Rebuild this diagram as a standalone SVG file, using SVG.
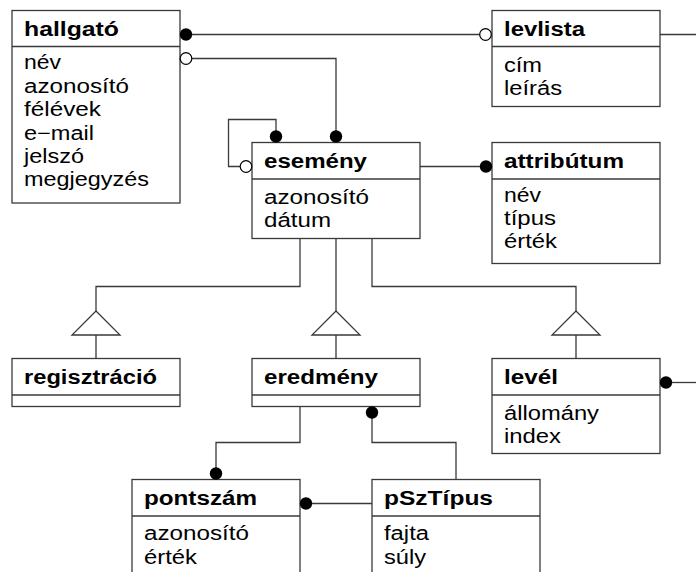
<svg xmlns="http://www.w3.org/2000/svg" width="696" height="572" viewBox="0 0 696 572">
  <style>
    .box { fill: #ffffff; stroke: #3a3a3a; stroke-width: 1.3; }
    .sep { stroke: #3a3a3a; stroke-width: 1.3; }
    .wire { fill: none; stroke: #3a3a3a; stroke-width: 1.3; }
    .tri { fill: #ffffff; stroke: #3a3a3a; stroke-width: 1.3; }
    .dot { fill: #000000; }
    .ring { fill: #ffffff; stroke: #000000; stroke-width: 1.2; }
    text { font-family: "Liberation Sans", Arial, Helvetica, sans-serif; font-size: 20px; fill: #000000; }
    .title { font-weight: bold; }
  </style>

  <!-- classes -->
  <g id="hallgato">
    <rect class="box" x="12" y="10.5" width="168" height="192.5"/>
    <line class="sep" x1="12" y1="46.5" x2="180" y2="46.5"/>
    <text class="title" x="24" y="36" textLength="95" lengthAdjust="spacingAndGlyphs">hallgató</text>
    <text x="24" y="69" textLength="37" lengthAdjust="spacingAndGlyphs">név</text>
    <text x="24" y="92.5" textLength="105" lengthAdjust="spacingAndGlyphs">azonosító</text>
    <text x="24" y="116" textLength="77" lengthAdjust="spacingAndGlyphs">félévek</text>
    <text x="24" y="139.5" textLength="70" lengthAdjust="spacingAndGlyphs">e−mail</text>
    <text x="24" y="163" textLength="60" lengthAdjust="spacingAndGlyphs">jelszó</text>
    <text x="24" y="186" textLength="125" lengthAdjust="spacingAndGlyphs">megjegyzés</text>
  </g>

  <g id="levlista">
    <rect class="box" x="492" y="10.5" width="168" height="96"/>
    <line class="sep" x1="492" y1="46.5" x2="660" y2="46.5"/>
    <text class="title" x="504" y="36" textLength="81" lengthAdjust="spacingAndGlyphs">levlista</text>
    <text x="504" y="71.5" textLength="38" lengthAdjust="spacingAndGlyphs">cím</text>
    <text x="504" y="94.5" textLength="58" lengthAdjust="spacingAndGlyphs">leírás</text>
  </g>

  <g id="esemeny">
    <rect class="box" x="252" y="142.5" width="168" height="96"/>
    <line class="sep" x1="252" y1="179" x2="420" y2="179"/>
    <text class="title" x="264" y="168" textLength="103" lengthAdjust="spacingAndGlyphs">esemény</text>
    <text x="264" y="203.5" textLength="105" lengthAdjust="spacingAndGlyphs">azonosító</text>
    <text x="264" y="227" textLength="67" lengthAdjust="spacingAndGlyphs">dátum</text>
  </g>

  <g id="attributum">
    <rect class="box" x="492" y="142.5" width="168" height="121"/>
    <line class="sep" x1="492" y1="179" x2="660" y2="179"/>
    <text class="title" x="504" y="168" textLength="120" lengthAdjust="spacingAndGlyphs">attribútum</text>
    <text x="504" y="201.5" textLength="37" lengthAdjust="spacingAndGlyphs">név</text>
    <text x="504" y="224.5" textLength="52" lengthAdjust="spacingAndGlyphs">típus</text>
    <text x="504" y="247.5" textLength="53" lengthAdjust="spacingAndGlyphs">érték</text>
  </g>

  <g id="regisztracio">
    <rect class="box" x="12" y="358.5" width="168" height="48"/>
    <line class="sep" x1="12" y1="395" x2="180" y2="395"/>
    <text class="title" x="24" y="384" textLength="133" lengthAdjust="spacingAndGlyphs">regisztráció</text>
  </g>

  <g id="eredmeny">
    <rect class="box" x="252" y="358.5" width="168" height="48"/>
    <line class="sep" x1="252" y1="395" x2="420" y2="395"/>
    <text class="title" x="264" y="384" textLength="114" lengthAdjust="spacingAndGlyphs">eredmény</text>
  </g>

  <g id="level">
    <rect class="box" x="492" y="358.5" width="168" height="95"/>
    <line class="sep" x1="492" y1="395" x2="660" y2="395"/>
    <text class="title" x="504" y="384" textLength="54" lengthAdjust="spacingAndGlyphs">levél</text>
    <text x="504" y="419.5" textLength="95" lengthAdjust="spacingAndGlyphs">állomány</text>
    <text x="504" y="443" textLength="57" lengthAdjust="spacingAndGlyphs">index</text>
  </g>

  <g id="pontszam">
    <rect class="box" x="132" y="479.5" width="168" height="120"/>
    <line class="sep" x1="132" y1="516" x2="300" y2="516"/>
    <text class="title" x="144" y="505" textLength="113" lengthAdjust="spacingAndGlyphs">pontszám</text>
    <text x="144" y="540" textLength="105" lengthAdjust="spacingAndGlyphs">azonosító</text>
    <text x="144" y="563.5" textLength="53" lengthAdjust="spacingAndGlyphs">érték</text>
  </g>

  <g id="pSzTipus">
    <rect class="box" x="372" y="479.5" width="168" height="120"/>
    <line class="sep" x1="372" y1="516" x2="540" y2="516"/>
    <text class="title" x="384" y="505" textLength="109" lengthAdjust="spacingAndGlyphs">pSzTípus</text>
    <text x="384" y="540" textLength="45" lengthAdjust="spacingAndGlyphs">fajta</text>
    <text x="384" y="563.5" textLength="42" lengthAdjust="spacingAndGlyphs">súly</text>
  </g>

  <!-- associations, generalizations and their end markers -->
  <g id="connectors">
    <!-- hallgató — levlista -->
    <line class="wire" x1="186" y1="34.5" x2="486" y2="34.5"/>
    <circle class="dot" cx="186" cy="34.5" r="6.2"/>
    <circle class="ring" cx="485.5" cy="34.5" r="5.8"/>
    <!-- levlista leaving to the right -->
    <line class="wire" x1="660" y1="34.5" x2="696" y2="34.5"/>

    <!-- hallgató — esemény -->
    <polyline class="wire" points="192,58.5 336,58.5 336,136"/>
    <circle class="ring" cx="186" cy="58.5" r="5.8"/>
    <circle class="dot" cx="336" cy="136.5" r="6.2"/>

    <!-- esemény self association -->
    <polyline class="wire" points="276,136 276,119.5 228.5,119.5 228.5,166.5 240,166.5"/>
    <circle class="dot" cx="276" cy="136.5" r="6.2"/>
    <circle class="ring" cx="246" cy="166.5" r="5.8"/>

    <!-- esemény — attribútum -->
    <line class="wire" x1="420" y1="166.5" x2="486" y2="166.5"/>
    <circle class="dot" cx="486" cy="166.5" r="6.2"/>

    <!-- generalization: regisztráció -->
    <polyline class="wire" points="300,238.5 300,286.5 96,286.5 96,311"/>
    <polygon class="tri" points="96,311 72,335 120,335"/>
    <line class="wire" x1="96" y1="335" x2="96" y2="358.5"/>

    <!-- generalization: eredmény -->
    <line class="wire" x1="336" y1="238.5" x2="336" y2="311"/>
    <polygon class="tri" points="336,311 312,335 360,335"/>
    <line class="wire" x1="336" y1="335" x2="336" y2="358.5"/>

    <!-- generalization: levél -->
    <polyline class="wire" points="372,238.5 372,286.5 576,286.5 576,311"/>
    <polygon class="tri" points="576,311 552,335 600,335"/>
    <line class="wire" x1="576" y1="335" x2="576" y2="358.5"/>

    <!-- levél leaving to the right -->
    <line class="wire" x1="666" y1="382.5" x2="696" y2="382.5"/>
    <circle class="dot" cx="666" cy="382.5" r="6.2"/>

    <!-- eredmény — pontszám -->
    <polyline class="wire" points="300,406.5 300,442.5 216,442.5 216,473"/>
    <circle class="dot" cx="216" cy="473.5" r="6.2"/>

    <!-- eredmény — pSzTípus -->
    <polyline class="wire" points="372,412.5 372,442.5 456,442.5 456,479.5"/>
    <circle class="dot" cx="372" cy="412.5" r="6.2"/>

    <!-- pontszám — pSzTípus -->
    <line class="wire" x1="306" y1="503.5" x2="372" y2="503.5"/>
    <circle class="dot" cx="306" cy="503.5" r="6.2"/>
  </g>
</svg>
